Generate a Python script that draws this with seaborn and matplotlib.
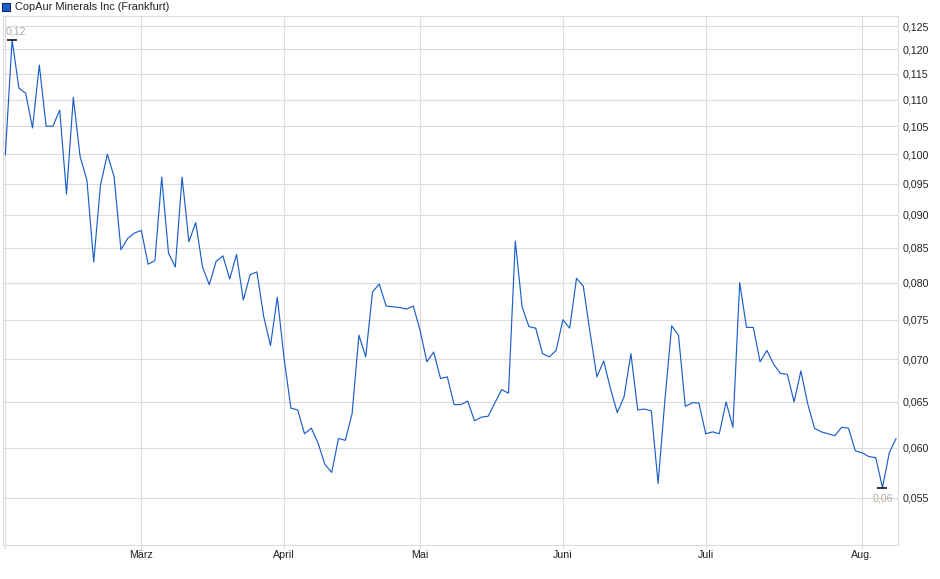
import numpy as np
import pandas as pd
import matplotlib
matplotlib.use("Agg")
import matplotlib.pyplot as plt
import matplotlib.ticker as mticker
from matplotlib.patches import Patch
import seaborn as sns

# ---- data, one value per trading point ----
prices = [
    0.0999, 0.1220, 0.1122, 0.1112, 0.1047, 0.1168, 0.1050, 0.1050, 0.1080, 0.0933,
    0.1104, 0.0996, 0.0956, 0.0829, 0.0948, 0.1000, 0.0962, 0.0847, 0.0864, 0.0872,
    0.0876, 0.0826, 0.0831, 0.0961, 0.0842, 0.0822, 0.0961, 0.0859, 0.0888, 0.0822,
    0.0797, 0.0830, 0.0838, 0.0805, 0.0840, 0.0776, 0.0811, 0.0815, 0.0754, 0.0717,
    0.0780, 0.0701, 0.0643, 0.0641, 0.0615, 0.0621, 0.0605, 0.0583, 0.0575, 0.0610,
    0.0608, 0.0637, 0.0730, 0.0703, 0.0787, 0.0798, 0.0768, 0.0767, 0.0766, 0.0764,
    0.0768, 0.0736, 0.0697, 0.0709, 0.0677, 0.0679, 0.0647, 0.0647, 0.0651, 0.0629,
    0.0633, 0.0634, 0.0649, 0.0664, 0.0660, 0.0860, 0.0767, 0.0741, 0.0739, 0.0707,
    0.0703, 0.0711, 0.0750, 0.0739, 0.0806, 0.0795, 0.0733, 0.0679, 0.0698, 0.0665,
    0.0638, 0.0656, 0.0707, 0.0641, 0.0642, 0.0640, 0.0564, 0.0652, 0.0742, 0.0730,
    0.0645, 0.0649, 0.0649, 0.0615, 0.0617, 0.0615, 0.0650, 0.0622, 0.0800, 0.0740,
    0.0740, 0.0697, 0.0711, 0.0694, 0.0683, 0.0682, 0.0650, 0.0686, 0.0648, 0.0621,
    0.0617, 0.0615, 0.0613, 0.0622, 0.0621, 0.0597, 0.0595, 0.0591, 0.0590, 0.0560,
    0.0595, 0.0610,
]
# number of trading points per month (Feb .. Aug)
month_counts = [20, 21, 20, 21, 21, 23, 6]
month_labels = ["", "März", "April", "Mai", "Juni", "Juli", "Aug."]
y_ticks = [0.055, 0.060, 0.065, 0.070, 0.075, 0.080, 0.085, 0.090,
           0.095, 0.100, 0.105, 0.110, 0.115, 0.120, 0.125]
series_name = "CopAur Minerals Inc (Frankfurt)"

df = pd.DataFrame({"pos": np.arange(len(prices)), "price": prices})
month_starts = np.concatenate([[0], np.cumsum(month_counts)[:-1]])

# ---- style ----
sns.set_theme(style="white")
plt.rcParams["font.family"] = ["Liberation Sans", "DejaVu Sans"]

W, H = 940, 579
fig = plt.figure(figsize=(W / 100, H / 100), dpi=100)
left_px, right_px, top_px, bottom_px = 3, 898, 16, 545
ax = fig.add_axes([left_px / W, 1 - bottom_px / H,
                   (right_px - left_px) / W, (bottom_px - top_px) / H])

line_color = "#1d5fc8"
grid_color = "#dcdcdc"

sns.lineplot(data=df, x="pos", y="price", ax=ax, color=line_color,
             linewidth=0.85, legend=False)

ax.set_yscale("log")
ax.set_ylim(0.05068, 0.1272)
ax.set_xlim(-0.34, 131.28)

ax.yaxis.tick_right()
ax.yaxis.set_major_locator(mticker.FixedLocator(y_ticks))
ax.yaxis.set_minor_locator(mticker.NullLocator())
ax.yaxis.set_major_formatter(mticker.FuncFormatter(
    lambda v, p: f"{v:.3f}".replace(".", ",")))
ax.set_xticks(month_starts)
ax.set_xticklabels(month_labels)

ax.grid(True, color=grid_color, linewidth=0.8)
ax.set_axisbelow(True)
ax.tick_params(axis="y", which="major", length=0, pad=3.5,
               labelsize=7.7, labelcolor="#222222")
ax.tick_params(axis="x", which="major", length=3, width=0.8, color=grid_color,
               pad=0.5, labelsize=7.7, labelcolor="#222222", bottom=True)
ax.set_xlabel("")
ax.set_ylabel("")
for s in ax.spines.values():
    s.set_color(grid_color)
    s.set_linewidth(0.8)

# ---- max / min annotations ----
imax = int(np.argmax(prices))
imin = int(np.argmin(prices))
ann_color = "#b5aca3"
ax.plot([imax], [prices[imax]], marker="_", markersize=6.5,
        markeredgewidth=1.1, color="black")
ax.annotate(f"{prices[imax]:.2f}".replace(".", ","), (imax, prices[imax]),
            xytext=(3, 6), textcoords="offset points", ha="center",
            va="center", fontsize=7.7, color=ann_color)
ax.plot([imin], [prices[imin]], marker="_", markersize=6.5,
        markeredgewidth=1.1, color="black")
ax.annotate(f"{prices[imin]:.2f}".replace(".", ","), (imin, prices[imin]),
            xytext=(0, -4), textcoords="offset points", ha="center",
            va="top", fontsize=7.7, color=ann_color)

# ---- legend ----
handle = Patch(facecolor=line_color, edgecolor="#0c2a66", linewidth=0.8)
fig.legend([handle], [series_name], loc="upper left",
           bbox_to_anchor=(0.0, 1.0 - 0.0005), frameon=False,
           fontsize=7.9, handlelength=0.75, handleheight=0.75,
           handletextpad=0.45, borderpad=0.2, borderaxespad=0.0,
           labelcolor="#222222")

fig.savefig("out.png", dpi=100)
